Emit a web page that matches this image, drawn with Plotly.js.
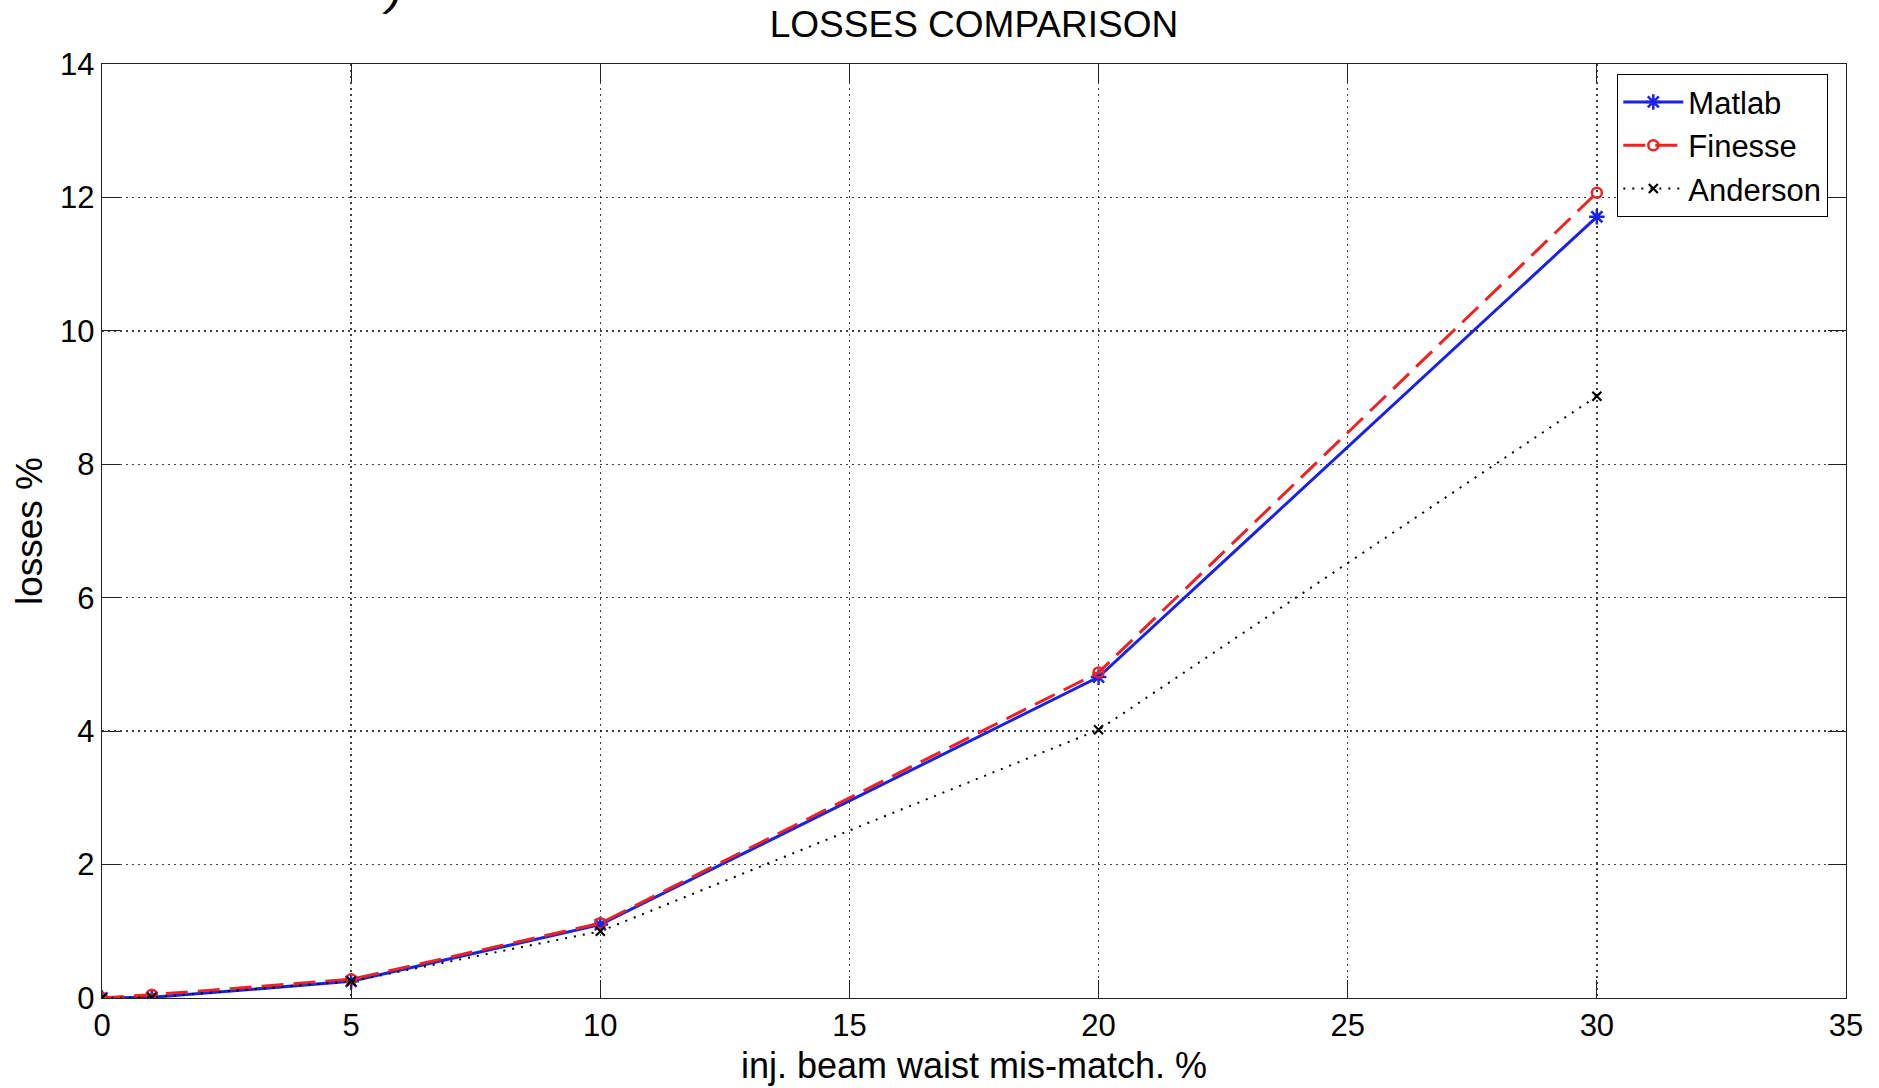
<!DOCTYPE html>
<html>
<head>
<meta charset="utf-8">
<script src="https://cdn.plot.ly/plotly-3.0.1.min.js"></script>
<style>
html,body{margin:0;padding:0;background:#fff;}
#chart{width:1879px;height:1088px;}
</style>
</head>
<body>
<div id="chart"></div>
<script>
// Data
var mismatch = [0, 1, 5, 10, 20, 30];
var matlab   = [0, 0.01, 0.25, 1.10, 4.81, 11.71];
var finesse  = [0, 0.05, 0.28, 1.12, 4.88, 12.07];
var anderson = [0, 0.01, 0.25, 1.00, 4.02, 9.02];
var seriesNames = ['Matlab', 'Finesse', 'Anderson'];
var xTicks = [0, 5, 10, 15, 20, 25, 30, 35];
var yTicks = [0, 2, 4, 6, 8, 10, 12, 14];

var FONT = '"Liberation Sans", Arial, Helvetica, sans-serif';
var BLUE = 'rgb(25,35,230)';
var RED = 'rgb(235,35,35)';

var traces = [
  {
    x: mismatch, y: matlab, name: seriesNames[0], type: 'scatter', mode: 'lines+markers',
    line: {color: BLUE, width: 3},
    marker: {symbol: 'asterisk-open', size: 13, color: BLUE, line: {width: 2.5, color: BLUE}}
  },
  {
    x: mismatch, y: finesse, name: seriesNames[1], type: 'scatter', mode: 'lines+markers',
    line: {color: RED, width: 3, dash: '22px,10px'},
    marker: {symbol: 'circle-open', size: 10, color: RED, line: {width: 2.5, color: RED}}
  },
  {
    x: mismatch, y: anderson, name: seriesNames[2], type: 'scatter', mode: 'lines+markers',
    line: {color: '#000', width: 2, dash: '2px,7px'},
    marker: {symbol: 'x-thin-open', size: 9, color: '#000', line: {width: 2.2, color: '#000'}}
  }
];

var axisCommon = {
  showline: true, linecolor: '#222', linewidth: 1.2, mirror: 'ticks',
  ticks: 'inside', ticklen: 18, tickwidth: 1.2, tickcolor: '#222',
  showgrid: true, gridcolor: 'rgba(0,0,0,0.75)', gridwidth: 1.3, griddash: '1.5px,4.5px',
  zeroline: false, tickfont: {family: FONT, size: 31, color: '#000'},
  automargin: false
};

var layout = {
  width: 1879, height: 1088,
  paper_bgcolor: '#fff', plot_bgcolor: '#fff',
  margin: {l: 102, r: 33, t: 64, b: 90},
  showlegend: true,
  title: {
    text: 'LOSSES COMPARISON',
    font: {family: FONT, size: 37, color: '#000'},
    x: 0.5, xanchor: 'center', xref: 'paper',
    y: 0.978, yanchor: 'middle', yref: 'container'
  },
  xaxis: Object.assign({}, axisCommon, {
    range: [0, 35], tickvals: xTicks, ticktext: xTicks.map(String),
    title: {text: 'inj. beam waist mis-match. %', font: {family: FONT, size: 36, color: '#000'}, standoff: 10}
  }),
  yaxis: Object.assign({}, axisCommon, {
    range: [0, 14], tickvals: yTicks, ticktext: yTicks.map(String),
    title: {text: 'losses %', font: {family: FONT, size: 37, color: '#000'}, standoff: 6}
  }),
  legend: {
    x: 0.8687, y: 0.9893, xanchor: 'left', yanchor: 'top',
    bgcolor: '#fff', bordercolor: '#000', borderwidth: 1.3,
    font: {family: FONT, size: 31, color: '#000'},
    itemwidth: 60, tracegroupgap: 0
  },
  annotations: [
    {text: ')', xref: 'paper', yref: 'paper', x: 0.1684, y: 1.078, xanchor: 'center', yanchor: 'middle',
     showarrow: false, font: {family: FONT, size: 44, color: '#000'}, textangle: 15}
  ]
};

Plotly.newPlot('chart', traces, layout, {displayModeBar: false, staticPlot: true});
</script>
</body>
</html>
